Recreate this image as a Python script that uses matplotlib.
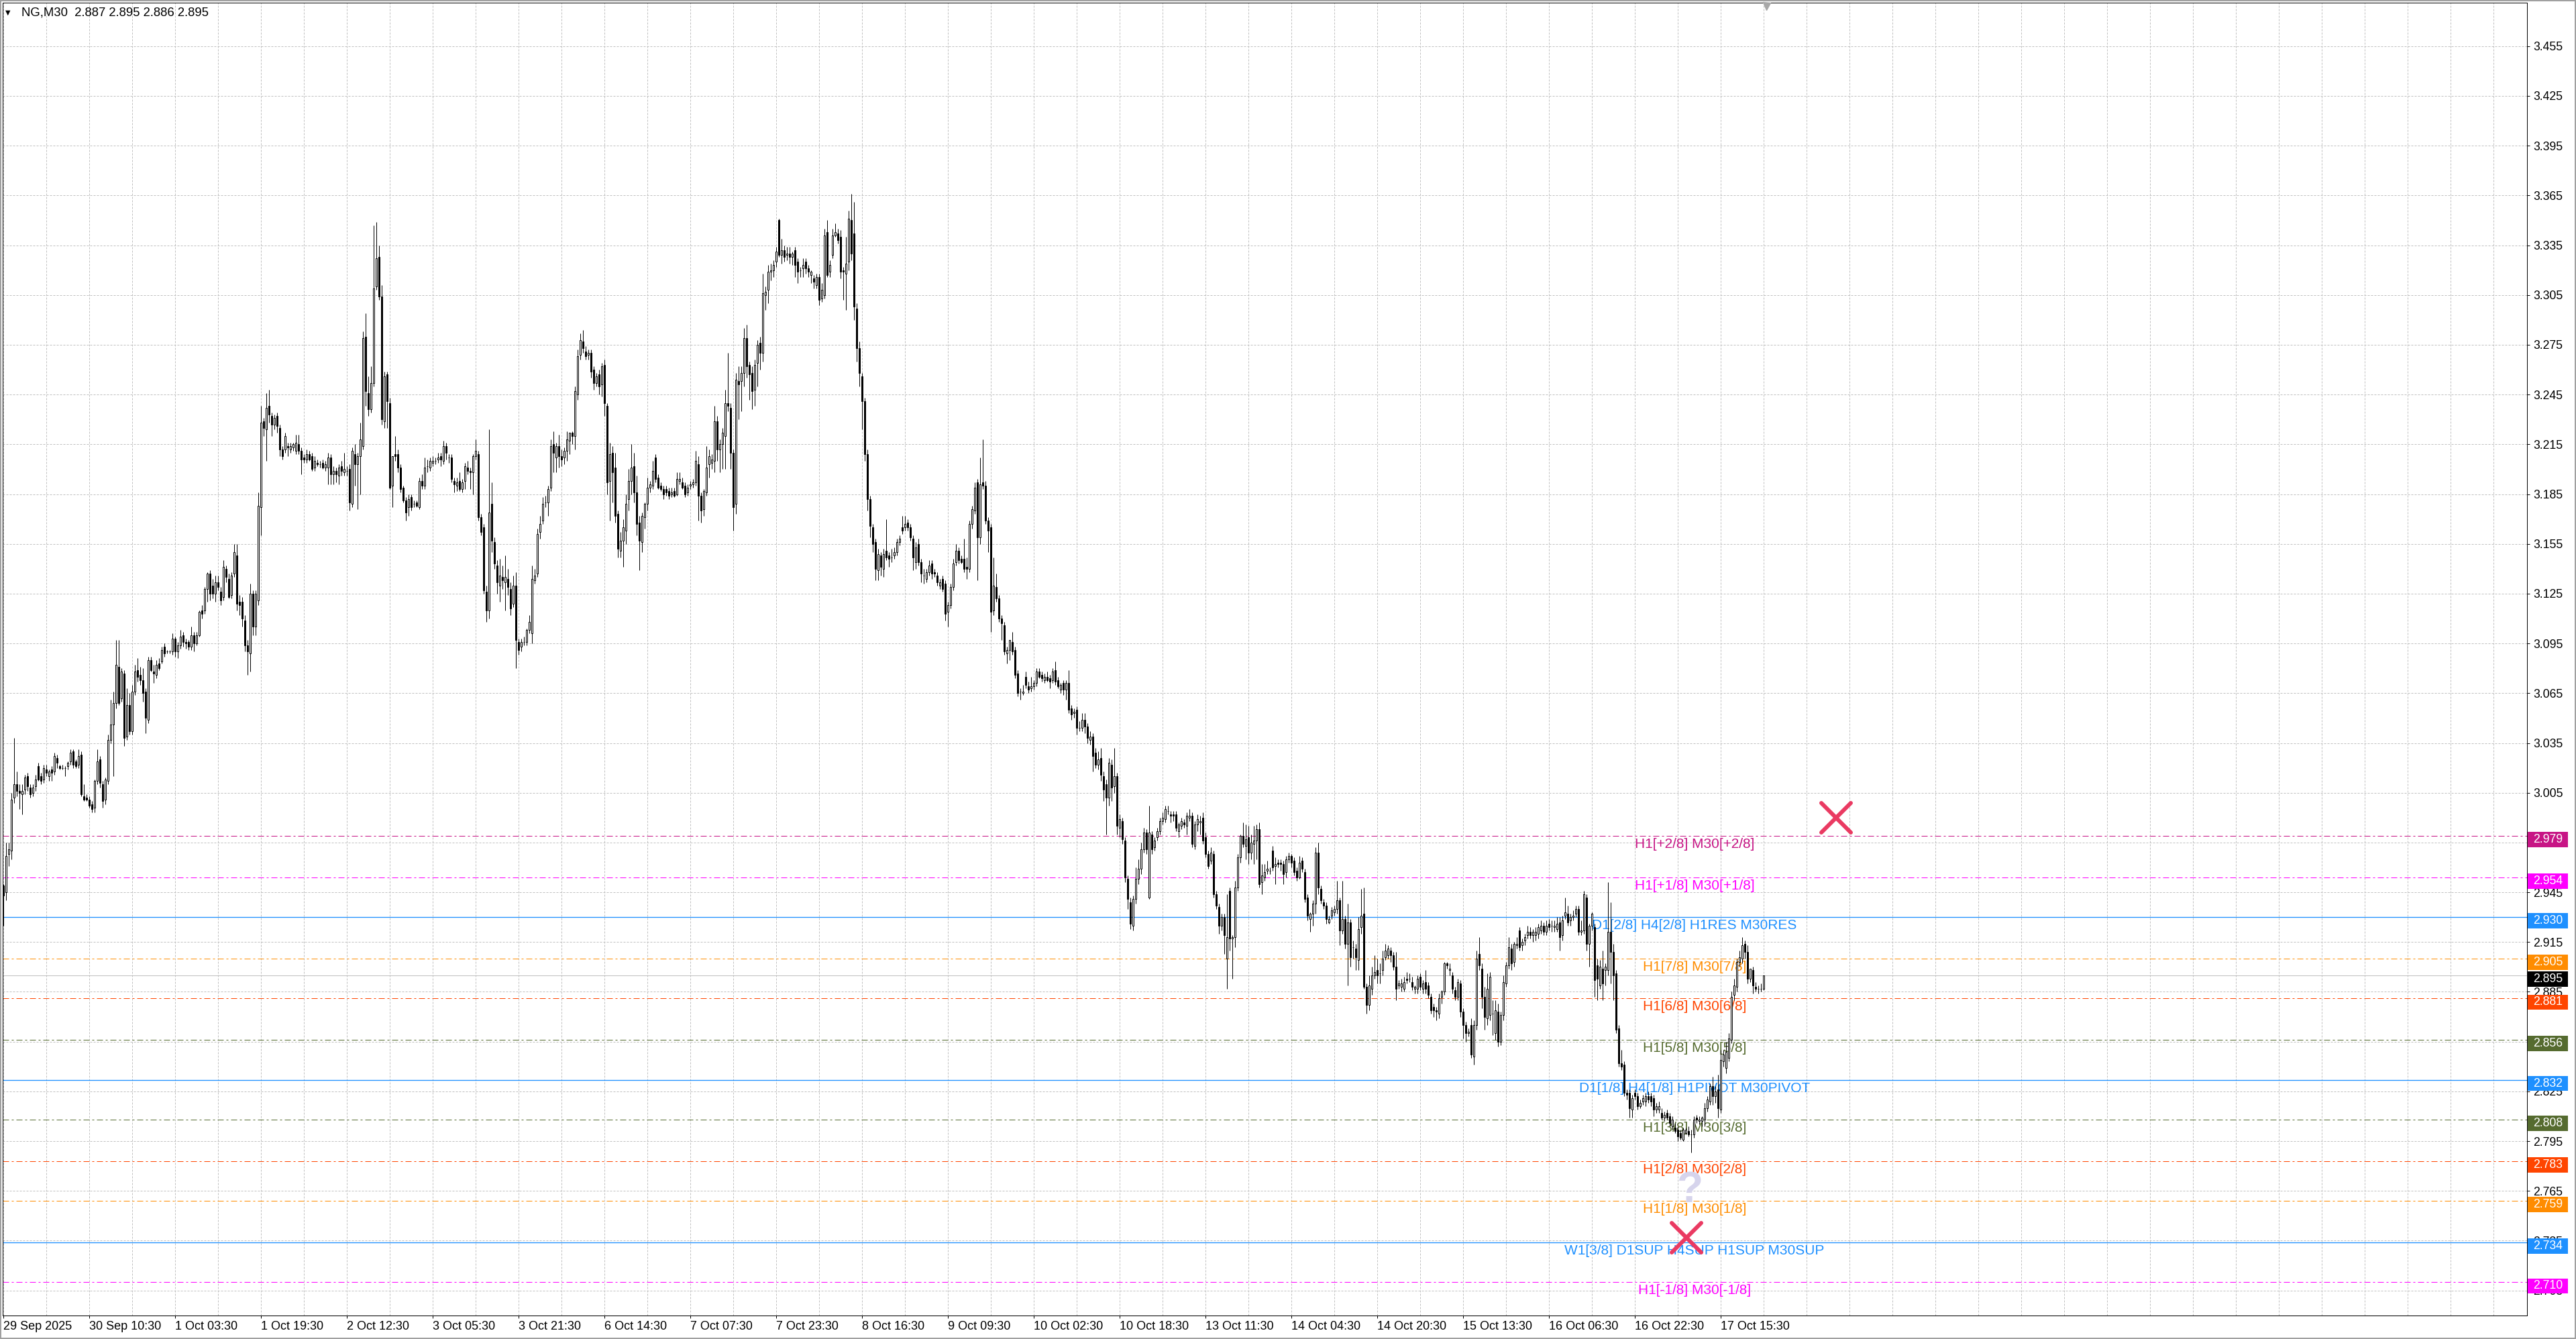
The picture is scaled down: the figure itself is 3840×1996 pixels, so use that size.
import matplotlib
matplotlib.use("Agg")
import matplotlib.pyplot as plt
import matplotlib.transforms as mtransforms
from matplotlib.patches import Rectangle
from matplotlib.markers import MarkerStyle
import numpy as np

plt.rcParams['font.family'] = ['Liberation Sans', 'DejaVu Sans']
plt.rcParams['lines.scale_dashes'] = False

# ---------------- data (NG, M30 candles) ----------------
opens = [
2.949,2.945,2.968,2.970,3.002,3.010,3.006,3.004,3.007,3.015,
3.008,3.005,3.009,3.021,3.015,3.013,3.019,3.015,3.019,3.018,
3.026,3.021,3.020,3.020,3.021,3.024,3.030,3.024,3.022,3.028,
3.003,3.002,3.001,2.998,2.996,3.012,3.025,3.010,3.001,3.012,
3.037,3.046,3.059,3.081,3.062,3.077,3.039,3.058,3.042,3.066,
3.079,3.076,3.073,3.066,3.049,3.085,3.078,3.076,3.083,3.084,
3.093,3.090,3.090,3.090,3.098,3.090,3.094,3.100,3.096,3.096,
3.093,3.100,3.095,3.100,3.115,3.115,3.128,3.137,3.130,3.125,
3.132,3.126,3.123,3.140,3.134,3.124,3.137,3.148,3.120,3.120,
3.109,3.094,3.089,3.125,3.105,3.121,3.177,3.229,3.224,3.238,
3.232,3.227,3.232,3.225,3.212,3.212,3.214,3.212,3.213,3.211,
3.215,3.211,3.207,3.206,3.209,3.208,3.201,3.204,3.203,3.204,
3.201,3.201,3.207,3.197,3.199,3.196,3.202,3.198,3.199,3.200,
3.179,3.209,3.203,3.208,3.214,3.280,3.246,3.236,3.252,3.310,
3.328,3.304,3.229,3.257,3.240,3.190,3.209,3.209,3.201,3.189,
3.181,3.177,3.183,3.179,3.180,3.177,3.193,3.190,3.202,3.201,
3.204,3.205,3.206,3.208,3.205,3.214,3.207,3.207,3.193,3.190,
3.193,3.188,3.193,3.201,3.199,3.198,3.208,3.209,3.171,3.165,
3.126,3.115,3.179,3.156,3.142,3.130,3.135,3.132,3.134,3.128,
3.119,3.130,3.096,3.093,3.096,3.096,3.103,3.101,3.133,3.137,
3.162,3.169,3.180,3.180,3.189,3.215,3.207,3.214,3.208,3.207,
3.211,3.217,3.222,3.220,3.245,3.269,3.277,3.271,3.269,3.270,
3.260,3.252,3.257,3.251,3.263,3.238,3.193,3.210,3.201,3.173,
3.151,3.157,3.163,3.182,3.193,3.202,3.186,3.168,3.156,3.171,
3.179,3.189,3.190,3.207,3.195,3.190,3.188,3.188,3.187,3.185,
3.187,3.185,3.193,3.192,3.190,3.186,3.190,3.191,3.192,3.203,
3.184,3.176,3.186,3.203,3.204,3.205,3.229,3.212,3.215,3.220,
3.240,3.237,3.210,3.179,3.253,3.253,3.258,3.279,3.263,3.258,
3.248,3.264,3.276,3.270,3.305,3.308,3.319,3.320,3.325,3.350,
3.329,3.332,3.329,3.330,3.328,3.332,3.325,3.320,3.321,3.325,
3.321,3.317,3.315,3.311,3.316,3.303,3.305,3.343,3.319,3.329,
3.341,3.342,3.340,3.320,3.318,3.325,3.350,3.342,3.297,3.273,
3.256,3.241,3.209,3.182,3.165,3.156,3.139,3.148,3.140,3.151,
3.148,3.147,3.148,3.150,3.156,3.165,3.165,3.168,3.165,3.158,
3.144,3.155,3.144,3.136,3.134,3.138,3.143,3.138,3.136,3.130,
3.134,3.131,3.114,3.118,3.129,3.144,3.151,3.146,3.146,3.141,
3.140,3.167,3.175,3.192,3.159,3.192,3.190,3.169,3.165,3.115,
3.129,3.122,3.110,3.106,3.089,3.091,3.096,3.091,3.077,3.066,
3.065,3.075,3.069,3.068,3.069,3.071,3.078,3.076,3.073,3.075,
3.074,3.073,3.079,3.073,3.067,3.071,3.067,3.071,3.056,3.053,
3.055,3.044,3.044,3.049,3.045,3.037,3.039,3.029,3.022,3.026,
3.015,3.010,3.002,3.022,3.009,3.015,2.984,2.988,2.976,2.953,
2.939,2.925,2.941,2.953,2.959,2.971,2.981,2.942,2.980,2.972,
2.978,2.982,2.988,2.989,2.994,2.992,2.992,2.992,2.982,2.985,
2.987,2.985,2.990,2.991,2.973,2.986,2.987,2.990,2.978,2.968,
2.964,2.968,2.944,2.936,2.925,2.930,2.905,2.946,2.917,2.918,
2.948,2.966,2.979,2.973,2.978,2.969,2.974,2.976,2.983,2.951,
2.954,2.958,2.958,2.970,2.961,2.963,2.963,2.962,2.957,2.965,
2.967,2.964,2.958,2.954,2.964,2.957,2.942,2.929,2.932,2.938,
2.969,2.947,2.939,2.937,2.927,2.931,2.933,2.935,2.940,2.922,
2.929,2.914,2.927,2.912,2.911,2.904,2.924,2.932,2.888,2.877,
2.887,2.895,2.898,2.896,2.898,2.906,2.907,2.910,2.907,2.900,
2.889,2.888,2.887,2.893,2.893,2.891,2.887,2.887,2.894,2.887,
2.891,2.889,2.882,2.876,2.874,2.872,2.882,2.885,2.902,2.898,
2.895,2.886,2.882,2.890,2.873,2.865,2.860,2.865,2.846,2.865,
2.908,2.899,2.882,2.869,2.871,2.872,2.860,2.873,2.855,2.871,
2.890,2.901,2.911,2.903,2.913,2.922,2.913,2.916,2.919,2.921,
2.919,2.919,2.920,2.922,2.925,2.921,2.926,2.925,2.924,2.923,
2.927,2.919,2.931,2.932,2.928,2.930,2.932,2.935,2.921,2.922,
2.942,2.914,2.925,2.924,2.901,2.889,2.899,2.898,2.898,2.921,
2.909,2.896,2.863,2.842,2.841,2.824,2.824,2.814,2.824,2.822,
2.816,2.819,2.819,2.822,2.822,2.821,2.814,2.814,2.812,2.809,
2.812,2.810,2.804,2.803,2.802,2.800,2.796,2.800,2.801,2.799,
2.799,2.809,2.807,2.807,2.808,2.815,2.819,2.828,2.822,2.826,
2.814,2.843,2.839,2.845,2.856,2.883,2.888,2.903,2.905,2.914,
2.909,2.893,2.898,2.888,2.887,2.887,2.887]

highs = [
2.950,2.975,2.975,3.005,3.038,3.018,3.010,3.010,3.016,3.017,
3.010,3.010,3.016,3.023,3.017,3.022,3.022,3.019,3.021,3.029,
3.028,3.022,3.022,3.021,3.024,3.031,3.031,3.025,3.031,3.030,
3.010,3.004,3.003,3.000,3.013,3.031,3.027,3.012,3.014,3.040,
3.061,3.066,3.097,3.097,3.080,3.079,3.068,3.065,3.070,3.082,
3.086,3.081,3.080,3.068,3.087,3.087,3.082,3.085,3.086,3.093,
3.095,3.091,3.091,3.101,3.099,3.096,3.103,3.102,3.098,3.097,
3.105,3.102,3.102,3.115,3.118,3.129,3.138,3.139,3.134,3.136,
3.136,3.129,3.145,3.142,3.137,3.138,3.155,3.155,3.124,3.123,
3.112,3.097,3.131,3.127,3.127,3.186,3.238,3.231,3.246,3.248,
3.234,3.233,3.234,3.227,3.214,3.222,3.216,3.216,3.216,3.221,
3.221,3.213,3.209,3.212,3.211,3.210,3.208,3.206,3.205,3.206,
3.205,3.210,3.209,3.202,3.201,3.203,3.205,3.210,3.202,3.203,
3.213,3.215,3.210,3.228,3.283,3.294,3.256,3.262,3.347,3.349,
3.335,3.311,3.259,3.259,3.243,3.208,3.220,3.212,3.203,3.190,
3.183,3.185,3.185,3.181,3.181,3.195,3.197,3.207,3.206,3.207,
3.208,3.207,3.210,3.210,3.217,3.216,3.209,3.209,3.195,3.195,
3.198,3.194,3.204,3.205,3.201,3.209,3.218,3.211,3.173,3.167,
3.130,3.224,3.192,3.159,3.145,3.146,3.142,3.148,3.140,3.132,
3.136,3.138,3.098,3.098,3.099,3.104,3.112,3.142,3.140,3.164,
3.172,3.183,3.184,3.190,3.218,3.223,3.216,3.221,3.212,3.213,
3.223,3.222,3.223,3.250,3.272,3.282,3.284,3.274,3.272,3.272,
3.262,3.258,3.260,3.264,3.266,3.240,3.216,3.214,3.210,3.175,
3.162,3.170,3.185,3.200,3.215,3.210,3.196,3.172,3.174,3.180,
3.195,3.193,3.205,3.209,3.197,3.192,3.190,3.190,3.189,3.189,
3.189,3.198,3.198,3.195,3.192,3.191,3.193,3.194,3.211,3.208,
3.186,3.188,3.214,3.212,3.209,3.238,3.232,3.218,3.225,3.248,
3.270,3.240,3.212,3.258,3.262,3.262,3.285,3.287,3.265,3.262,
3.266,3.278,3.280,3.318,3.310,3.323,3.324,3.326,3.334,3.351,
3.339,3.335,3.334,3.334,3.331,3.334,3.327,3.322,3.327,3.327,
3.323,3.320,3.317,3.318,3.318,3.312,3.345,3.350,3.326,3.345,
3.348,3.345,3.344,3.322,3.340,3.356,3.366,3.361,3.300,3.277,
3.258,3.243,3.212,3.184,3.167,3.158,3.152,3.150,3.152,3.170,
3.150,3.152,3.153,3.158,3.160,3.172,3.172,3.170,3.167,3.160,
3.156,3.158,3.146,3.140,3.140,3.145,3.145,3.140,3.138,3.134,
3.136,3.133,3.120,3.131,3.146,3.155,3.153,3.148,3.158,3.147,
3.169,3.178,3.192,3.194,3.207,3.218,3.193,3.171,3.167,3.147,
3.137,3.124,3.112,3.108,3.093,3.097,3.102,3.093,3.079,3.068,
3.070,3.078,3.072,3.075,3.073,3.080,3.080,3.078,3.077,3.078,
3.076,3.080,3.084,3.075,3.071,3.073,3.073,3.079,3.058,3.056,
3.057,3.048,3.053,3.053,3.047,3.042,3.041,3.032,3.030,3.032,
3.018,3.013,3.026,3.025,3.032,3.017,2.992,2.990,2.978,2.955,
2.942,2.943,2.960,2.965,2.975,2.984,2.983,2.997,2.982,2.978,
2.984,2.990,2.993,2.997,2.997,2.994,2.994,2.994,2.987,2.990,
2.989,2.993,2.995,2.993,2.988,2.992,2.991,2.993,2.981,2.970,
2.972,2.970,2.946,2.938,2.932,2.932,2.944,2.948,2.919,2.952,
2.968,2.980,2.987,2.986,2.985,2.980,2.985,2.986,2.987,2.962,
2.962,2.964,2.960,2.973,2.966,2.965,2.965,2.964,2.967,2.969,
2.968,2.966,2.960,2.967,2.966,2.959,2.944,2.933,2.940,2.972,
2.975,2.949,2.941,2.939,2.931,2.936,2.937,2.952,2.942,2.952,
2.931,2.938,2.929,2.916,2.914,2.930,2.947,2.948,2.890,2.895,
2.900,2.907,2.905,2.902,2.910,2.914,2.913,2.912,2.909,2.909,
2.892,2.893,2.894,2.897,2.896,2.894,2.889,2.895,2.896,2.892,
2.898,2.891,2.884,2.878,2.876,2.884,2.886,2.903,2.903,2.902,
2.897,2.888,2.893,2.892,2.875,2.867,2.863,2.869,2.868,2.910,
2.918,2.902,2.888,2.896,2.897,2.880,2.880,2.878,2.873,2.895,
2.903,2.918,2.914,2.915,2.918,2.924,2.917,2.920,2.925,2.924,
2.923,2.924,2.926,2.928,2.927,2.928,2.929,2.928,2.928,2.930,
2.930,2.931,2.942,2.937,2.932,2.934,2.937,2.937,2.928,2.946,
2.944,2.926,2.933,2.926,2.905,2.904,2.910,2.902,2.951,2.939,
2.914,2.898,2.865,2.850,2.843,2.826,2.826,2.823,2.826,2.824,
2.820,2.823,2.824,2.825,2.824,2.823,2.818,2.819,2.815,2.813,
2.814,2.812,2.810,2.806,2.804,2.802,2.803,2.803,2.804,2.802,
2.810,2.811,2.810,2.810,2.818,2.822,2.830,2.834,2.828,2.835,
2.850,2.850,2.855,2.860,2.885,2.893,2.905,2.910,2.918,2.916,
2.913,2.899,2.900,2.891,2.889,2.890,2.895]

lows = [
2.925,2.940,2.961,2.965,2.999,3.003,2.995,2.992,3.004,3.006,
3.002,3.003,3.006,3.012,3.010,3.011,3.015,3.012,3.012,3.016,
3.020,3.019,3.019,3.015,3.019,3.022,3.020,3.020,3.020,3.003,
3.000,3.000,2.996,2.993,2.993,3.010,3.008,2.996,2.998,3.010,
3.035,3.015,3.056,3.058,3.060,3.033,3.037,3.040,3.040,3.064,
3.072,3.070,3.060,3.041,3.047,3.078,3.071,3.074,3.079,3.083,
3.087,3.089,3.089,3.088,3.087,3.086,3.092,3.093,3.092,3.091,
3.091,3.090,3.094,3.099,3.110,3.113,3.120,3.121,3.122,3.120,
3.127,3.118,3.121,3.132,3.122,3.122,3.135,3.115,3.112,3.105,
3.090,3.076,3.078,3.100,3.100,3.118,3.160,3.220,3.205,3.228,
3.220,3.224,3.222,3.208,3.206,3.210,3.208,3.210,3.211,3.209,
3.209,3.197,3.204,3.204,3.205,3.199,3.199,3.202,3.201,3.200,
3.199,3.191,3.191,3.191,3.192,3.191,3.196,3.196,3.196,3.175,
3.177,3.190,3.176,3.185,3.212,3.238,3.232,3.234,3.250,3.308,
3.302,3.227,3.225,3.225,3.188,3.177,3.205,3.198,3.186,3.180,
3.169,3.172,3.175,3.177,3.177,3.176,3.188,3.188,3.198,3.199,
3.202,3.203,3.204,3.202,3.203,3.206,3.204,3.192,3.186,3.187,
3.187,3.186,3.188,3.197,3.188,3.185,3.206,3.169,3.160,3.125,
3.108,3.110,3.150,3.140,3.125,3.120,3.128,3.115,3.124,3.112,
3.117,3.080,3.088,3.090,3.094,3.094,3.101,3.095,3.131,3.135,
3.158,3.167,3.177,3.172,3.187,3.198,3.198,3.201,3.202,3.203,
3.205,3.209,3.215,3.212,3.242,3.266,3.270,3.266,3.266,3.255,
3.248,3.250,3.245,3.244,3.232,3.185,3.169,3.180,3.168,3.147,
3.147,3.141,3.155,3.175,3.185,3.180,3.160,3.139,3.150,3.164,
3.175,3.186,3.188,3.192,3.188,3.187,3.182,3.184,3.182,3.183,
3.183,3.184,3.191,3.188,3.183,3.184,3.188,3.189,3.190,3.169,
3.168,3.172,3.184,3.195,3.200,3.198,3.205,3.198,3.200,3.200,
3.235,3.200,3.163,3.173,3.230,3.235,3.250,3.255,3.242,3.236,
3.238,3.250,3.260,3.265,3.296,3.300,3.314,3.316,3.322,3.328,
3.324,3.325,3.326,3.324,3.323,3.316,3.312,3.316,3.316,3.318,
3.316,3.312,3.309,3.309,3.299,3.301,3.303,3.316,3.316,3.327,
3.340,3.336,3.315,3.302,3.296,3.320,3.326,3.290,3.265,3.250,
3.224,3.205,3.175,3.159,3.150,3.133,3.133,3.136,3.135,3.145,
3.141,3.144,3.146,3.148,3.154,3.161,3.163,3.163,3.157,3.139,
3.140,3.142,3.132,3.131,3.132,3.136,3.134,3.135,3.130,3.128,
3.126,3.109,3.105,3.116,3.127,3.142,3.143,3.143,3.138,3.134,
3.138,3.164,3.173,3.133,3.155,3.188,3.167,3.150,3.102,3.112,
3.120,3.108,3.097,3.088,3.083,3.085,3.088,3.074,3.063,3.061,
3.064,3.068,3.065,3.066,3.067,3.069,3.074,3.072,3.071,3.072,
3.068,3.071,3.070,3.068,3.065,3.064,3.061,3.053,3.049,3.050,
3.040,3.042,3.042,3.041,3.035,3.034,3.018,3.020,3.019,3.012,
3.000,2.980,2.997,3.000,3.005,2.980,2.978,2.974,2.951,2.935,
2.923,2.922,2.938,2.950,2.956,2.969,2.968,2.941,2.968,2.970,
2.976,2.980,2.986,2.987,2.992,2.987,2.988,2.982,2.978,2.983,
2.984,2.980,2.988,2.972,2.971,2.982,2.980,2.974,2.966,2.959,
2.962,2.942,2.935,2.920,2.922,2.908,2.887,2.910,2.893,2.912,
2.946,2.963,2.972,2.965,2.962,2.965,2.962,2.965,2.948,2.944,
2.952,2.956,2.956,2.958,2.950,2.960,2.958,2.950,2.954,2.963,
2.960,2.955,2.952,2.953,2.957,2.939,2.928,2.921,2.925,2.932,
2.944,2.938,2.935,2.926,2.926,2.929,2.931,2.932,2.913,2.920,
2.911,2.889,2.900,2.905,2.898,2.898,2.920,2.887,2.872,2.874,
2.883,2.893,2.890,2.890,2.895,2.904,2.905,2.903,2.898,2.880,
2.887,2.885,2.885,2.890,2.891,2.886,2.884,2.884,2.886,2.884,
2.884,2.881,2.872,2.870,2.868,2.869,2.878,2.883,2.899,2.895,
2.884,2.880,2.880,2.870,2.857,2.855,2.858,2.845,2.841,2.862,
2.898,2.875,2.862,2.865,2.868,2.859,2.856,2.852,2.853,2.868,
2.888,2.899,2.898,2.900,2.911,2.910,2.910,2.913,2.917,2.917,
2.915,2.916,2.917,2.920,2.919,2.919,2.922,2.921,2.921,2.921,
2.910,2.916,2.929,2.925,2.925,2.928,2.930,2.919,2.919,2.920,
2.910,2.900,2.922,2.882,2.880,2.887,2.880,2.889,2.895,2.890,
2.880,2.860,2.840,2.838,2.822,2.820,2.809,2.809,2.820,2.814,
2.815,2.817,2.816,2.818,2.816,2.810,2.812,2.812,2.808,2.807,
2.808,2.804,2.802,2.800,2.795,2.796,2.795,2.799,2.798,2.788,
2.797,2.806,2.805,2.804,2.804,2.813,2.817,2.817,2.818,2.809,
2.812,2.840,2.836,2.843,2.854,2.880,2.885,2.900,2.902,2.905,
2.890,2.891,2.884,2.885,2.884,2.885,2.886]

closes = [
2.943,2.967,2.971,3.001,3.010,3.006,3.005,3.006,3.014,3.009,
3.004,3.008,3.013,3.013,3.012,3.020,3.017,3.018,3.017,3.027,
3.023,3.020,3.020,3.020,3.023,3.029,3.022,3.021,3.027,3.004,
3.001,3.001,2.997,2.995,3.012,3.024,3.011,3.000,3.013,3.037,
3.046,3.059,3.082,3.059,3.078,3.038,3.058,3.042,3.066,3.078,
3.075,3.073,3.065,3.050,3.085,3.079,3.077,3.082,3.080,3.091,
3.089,3.090,3.090,3.098,3.090,3.094,3.099,3.096,3.095,3.093,
3.100,3.095,3.100,3.114,3.113,3.128,3.137,3.125,3.125,3.132,
3.129,3.121,3.141,3.135,3.123,3.136,3.150,3.119,3.118,3.110,
3.094,3.090,3.125,3.105,3.125,3.178,3.228,3.225,3.237,3.233,
3.227,3.231,3.226,3.212,3.208,3.220,3.213,3.214,3.215,3.216,
3.211,3.206,3.206,3.209,3.206,3.200,3.205,3.203,3.203,3.201,
3.203,3.207,3.197,3.199,3.197,3.201,3.199,3.200,3.199,3.180,
3.211,3.203,3.208,3.218,3.279,3.247,3.236,3.252,3.309,3.327,
3.304,3.230,3.256,3.241,3.189,3.208,3.208,3.201,3.188,3.181,
3.174,3.182,3.177,3.179,3.178,3.193,3.190,3.201,3.202,3.205,
3.205,3.205,3.207,3.206,3.214,3.210,3.207,3.194,3.191,3.192,
3.188,3.192,3.202,3.199,3.198,3.208,3.211,3.171,3.162,3.127,
3.115,3.174,3.157,3.143,3.132,3.136,3.133,3.135,3.129,3.116,
3.130,3.097,3.091,3.096,3.096,3.103,3.108,3.134,3.136,3.161,
3.167,3.179,3.180,3.188,3.214,3.210,3.214,3.208,3.206,3.211,
3.218,3.222,3.220,3.247,3.268,3.278,3.273,3.268,3.270,3.259,
3.252,3.256,3.250,3.262,3.240,3.192,3.209,3.198,3.172,3.152,
3.157,3.165,3.179,3.193,3.201,3.186,3.167,3.157,3.172,3.179,
3.189,3.191,3.199,3.194,3.189,3.188,3.185,3.186,3.184,3.186,
3.184,3.194,3.194,3.189,3.185,3.189,3.191,3.192,3.205,3.184,
3.175,3.187,3.201,3.208,3.206,3.229,3.212,3.215,3.222,3.240,
3.238,3.210,3.177,3.254,3.251,3.258,3.279,3.262,3.257,3.247,
3.263,3.275,3.270,3.306,3.307,3.319,3.320,3.323,3.331,3.329,
3.332,3.328,3.330,3.328,3.330,3.323,3.319,3.320,3.323,3.321,
3.319,3.319,3.313,3.316,3.302,3.308,3.341,3.317,3.323,3.341,
3.343,3.338,3.319,3.319,3.324,3.351,3.330,3.298,3.273,3.258,
3.241,3.209,3.182,3.166,3.155,3.140,3.149,3.141,3.149,3.147,
3.146,3.147,3.150,3.156,3.158,3.163,3.167,3.165,3.159,3.147,
3.153,3.144,3.137,3.136,3.138,3.142,3.137,3.137,3.132,3.132,
3.128,3.113,3.118,3.129,3.143,3.151,3.145,3.144,3.140,3.140,
3.167,3.176,3.189,3.159,3.191,3.190,3.169,3.163,3.114,3.130,
3.122,3.110,3.107,3.090,3.091,3.097,3.090,3.076,3.065,3.066,
3.066,3.070,3.067,3.069,3.071,3.078,3.075,3.074,3.075,3.073,
3.072,3.078,3.072,3.069,3.070,3.067,3.071,3.055,3.052,3.054,
3.044,3.044,3.049,3.045,3.038,3.039,3.027,3.022,3.025,3.016,
3.007,3.002,3.023,3.008,3.015,2.985,2.989,2.977,2.954,2.941,
2.926,2.941,2.953,2.959,2.971,2.981,2.971,2.981,2.971,2.976,
2.982,2.988,2.990,2.995,2.994,2.991,2.991,2.984,2.986,2.988,
2.986,2.991,2.991,2.974,2.986,2.989,2.988,2.976,2.968,2.961,
2.969,2.944,2.937,2.925,2.930,2.919,2.918,2.917,2.918,2.948,
2.966,2.979,2.974,2.977,2.969,2.975,2.976,2.983,2.950,2.955,
2.957,2.959,2.958,2.960,2.962,2.962,2.962,2.956,2.965,2.967,
2.963,2.957,2.954,2.963,2.959,2.941,2.931,2.932,2.938,2.969,
2.948,2.940,2.937,2.929,2.929,2.934,2.935,2.940,2.922,2.929,
2.914,2.927,2.906,2.912,2.906,2.923,2.931,2.888,2.877,2.889,
2.895,2.897,2.895,2.896,2.905,2.910,2.911,2.907,2.900,2.887,
2.890,2.890,2.891,2.892,2.893,2.888,2.888,2.893,2.888,2.890,
2.887,2.883,2.874,2.874,2.873,2.881,2.885,2.902,2.901,2.899,
2.887,2.882,2.891,2.873,2.865,2.860,2.861,2.847,2.865,2.905,
2.901,2.882,2.870,2.887,2.894,2.872,2.874,2.855,2.871,2.891,
2.901,2.912,2.902,2.914,2.914,2.912,2.915,2.918,2.921,2.919,
2.921,2.921,2.924,2.925,2.921,2.925,2.924,2.925,2.925,2.926,
2.918,2.928,2.933,2.927,2.930,2.931,2.935,2.921,2.922,2.944,
2.914,2.925,2.932,2.892,2.893,2.900,2.890,2.900,2.921,2.909,
2.895,2.862,2.842,2.840,2.824,2.823,2.815,2.821,2.822,2.816,
2.818,2.821,2.822,2.820,2.819,2.814,2.816,2.816,2.809,2.811,
2.809,2.806,2.808,2.801,2.798,2.797,2.802,2.802,2.799,2.799,
2.808,2.808,2.808,2.809,2.815,2.820,2.828,2.822,2.825,2.815,
2.844,2.847,2.849,2.857,2.882,2.889,2.903,2.906,2.913,2.909,
2.893,2.899,2.889,2.887,2.887,2.887,2.895]

x_tick_bars = [0, 32, 64, 96, 128, 160, 192, 224, 256, 288, 320,
               352, 384, 416, 448, 480, 512, 544, 576, 608, 640]
x_tick_labels = ["29 Sep 2025", "30 Sep 10:30", "1 Oct 03:30", "1 Oct 19:30",
                 "2 Oct 12:30", "3 Oct 05:30", "3 Oct 21:30", "6 Oct 14:30",
                 "7 Oct 07:30", "7 Oct 23:30", "8 Oct 16:30", "9 Oct 09:30",
                 "10 Oct 02:30", "10 Oct 18:30", "13 Oct 11:30", "14 Oct 04:30",
                 "14 Oct 20:30", "15 Oct 13:30", "16 Oct 06:30", "16 Oct 22:30",
                 "17 Oct 15:30"]
y_ticks = [2.705, 2.735, 2.765, 2.795, 2.825, 2.855, 2.885, 2.915, 2.945,
           2.975, 3.005, 3.035, 3.065, 3.095, 3.125, 3.155, 3.185, 3.215,
           3.245, 3.275, 3.305, 3.335, 3.365, 3.395, 3.425, 3.455]
grid_bars = list(range(0, 941, 16))

level_prices = [2.979, 2.954, 2.930, 2.905, 2.881, 2.856,
                2.832, 2.808, 2.783, 2.759, 2.734, 2.710]
level_labels = ["H1[+2/8] M30[+2/8]", "H1[+1/8] M30[+1/8]",
                "D1[2/8] H4[2/8] H1RES M30RES", "H1[7/8] M30[7/8]",
                "H1[6/8] M30[6/8]", "H1[5/8] M30[5/8]",
                "D1[1/8] H4[1/8] H1PIVOT M30PIVOT", "H1[3/8] M30[3/8]",
                "H1[2/8] M30[2/8]", "H1[1/8] M30[1/8]",
                "W1[3/8] D1SUP H4SUP H1SUP M30SUP", "H1[-1/8] M30[-1/8]"]
level_colors = ['#C71585', '#FF00FF', '#1E90FF', '#FF8C00', '#FF4500', '#556B2F',
                '#1E90FF', '#556B2F', '#FF4500', '#FF8C00', '#1E90FF', '#FF00FF']
level_solid = [False, False, True, False, False, False,
               True, False, False, False, True, False]

last_price = 2.895
header_text = "NG,M30  2.887 2.895 2.886 2.895"
signal_bars = [683, 627.25]
signal_prices = [2.990, 2.737]
question_bar = 628.5
question_price = 2.765

# ---------------- figure ----------------
W, HPX, DPI = 3840, 1996, 100
def px(v):
    return v * 72.0 / DPI

fig = plt.figure(figsize=(W / DPI, HPX / DPI), dpi=DPI, facecolor='white')
ax = fig.add_axes([4 / W, (HPX - 1961) / HPX, (3767 - 4) / W, (1961 - 4) / HPX])
ax.set_facecolor('white')
ax.set_xlim(-0.25, 940.5)
ax.set_ylim(2.6899, 3.4812)

grid_kw = dict(color='#C0C0C0', lw=px(1), linestyle=(0, (px(3), px(2))), zorder=0.5)
for gb in grid_bars:
    ax.axvline(gb, **grid_kw)
for yt in y_ticks:
    ax.axhline(yt, **grid_kw)

# level lines and labels
dashdot = (0, (px(9), px(4), px(3), px(4)))
for p, lab, col, solid in zip(level_prices, level_labels, level_colors, level_solid):
    ax.axhline(p, color=col, lw=px(1.3) if solid else px(1),
               linestyle='-' if solid else dashdot, zorder=1)
    ax.annotate(lab, xy=(630.25, p), xytext=(0, -px(3)), textcoords='offset points',
                ha='center', va='top', fontsize=15, color=col, zorder=1.2)

# current price line
ax.axhline(last_price, color='#C0C0C0', lw=px(1), zorder=1.1)

# candles
n = min(len(opens), len(highs), len(lows), len(closes))
O = np.array(opens[:n]); Hh = np.array(highs[:n]); Ll = np.array(lows[:n]); C = np.array(closes[:n])
xs = np.arange(n)
top = np.maximum(np.maximum(O, C), Hh)
bot = np.minimum(np.minimum(O, C), Ll)
ax.vlines(xs, bot, top, color='black', lw=px(1), zorder=2)
body_b = np.minimum(O, C)
body_h = np.abs(C - O)
face = np.where(C >= O, 'white', 'black')
ax.bar(xs, body_h, bottom=body_b, width=0.55, color=face, edgecolor='black',
       linewidth=px(1), zorder=3)

# signal markers
xm = MarkerStyle('x', capstyle='round')
ax.plot(signal_bars, signal_prices, linestyle='none', marker=xm,
        markersize=px(44), markeredgewidth=px(6), color='#EA3A62', zorder=6)
ax.text(question_bar, question_price, '?', fontsize=46, fontweight='bold',
        color='#D6D4EC', ha='center', va='center', zorder=6)

# ticks
ax.set_xticks(x_tick_bars)
ax.set_xticklabels(x_tick_labels, ha='left', fontsize=13)
ax.tick_params(axis='x', length=px(4), width=px(1), pad=px(4), color='black')
ax.yaxis.tick_right()
ax.set_yticks(y_ticks)
ax.set_yticklabels(['%.3f' % v for v in y_ticks], fontsize=12.7)
ax.tick_params(axis='y', length=px(4), width=px(1), pad=px(5), color='black')
for sp in ax.spines.values():
    sp.set_color('black')
    sp.set_linewidth(px(1))

# price boxes on right axis
blend = mtransforms.blended_transform_factory(ax.transAxes, ax.transData)
ax_w = 3767 - 4
bx0 = (3768 - 4) / ax_w
bw = 60 / ax_w
tx0 = (3776 - 4) / ax_w
px_per_price = (1961 - 4) / (3.4812 - 2.6899)
box_h = 22.5 / px_per_price
box_off = 5.5 / px_per_price
box_prices = level_prices + [last_price]
box_colors = level_colors + ['black']
for p, col in zip(box_prices, box_colors):
    cy = p - box_off
    ax.add_patch(Rectangle((bx0, cy - box_h / 2), bw, box_h, transform=blend,
                           facecolor=col, edgecolor='none', clip_on=False, zorder=10))
    ax.text(tx0, cy, '%.3f' % p, transform=blend, color='white', fontsize=12.7,
            ha='left', va='center', clip_on=False, zorder=11)

# chart-shift marker at top
tri_t = mtransforms.blended_transform_factory(ax.transData, ax.transAxes)
ax.plot([n], [1 - 5 / (1961 - 4)], marker='v', markersize=px(11), color='#A8A8A8',
        transform=tri_t, clip_on=False, zorder=10)

# header
fig.text(8 / W, 1 - 19 / HPX, '\u25BC', fontsize=7, va='center', ha='left',
         family=['DejaVu Sans'])
fig.text(32 / W, 1 - 19 / HPX, header_text, fontsize=13.3, va='center', ha='left')

# window border
fig.patches.append(Rectangle((0, 0), 1, 1, transform=fig.transFigure, fill=False,
                             edgecolor='#A0A0A0', linewidth=px(4)))

fig.savefig('out.png', dpi=DPI, facecolor='white')
